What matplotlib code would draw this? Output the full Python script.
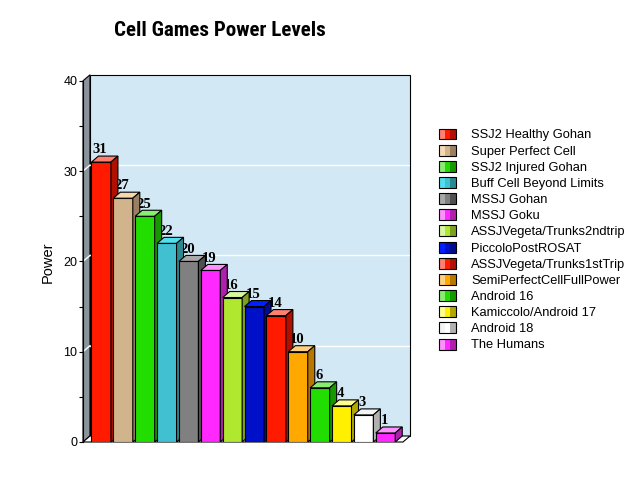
import matplotlib
matplotlib.use('Agg')
import matplotlib.pyplot as plt
from matplotlib import font_manager as fm
from matplotlib.font_manager import FontProperties
from matplotlib.patches import Polygon, Rectangle
from matplotlib.legend_handler import HandlerBase

# ---- data ----
names = ['SSJ2 Healthy Gohan', 'Super Perfect Cell', 'SSJ2 Injured Gohan',
         'Buff Cell Beyond Limits', 'MSSJ Gohan', 'MSSJ Goku',
         'ASSJVegeta/Trunks2ndtrip', 'PiccoloPostROSAT',
         'ASSJVegeta/Trunks1stTrip', 'SemiPerfectCellFullPower',
         'Android 16', 'Kamiccolo/Android 17', 'Android 18', 'The Humans']
values = [31, 27, 25, 22, 20, 19, 16, 15, 14, 10, 6, 4, 3, 1]
yticks = [0, 10, 20, 30, 40]
yminor = [5, 15, 25, 35]
title = 'Cell Games Power Levels'
ylabel = 'Power'

# ---- styles ----
front = ['#FF1A00', '#D2B48C', '#22DD00', '#40C0D0', '#808080', '#FF28FF',
         '#B0E830', '#0010C8', '#FF1A00', '#FFA800', '#22DD00', '#FFF000',
         '#FFFFFF', '#FF28FF']
light = ['#FF8070', '#F8D8B0', '#88EE70', '#50E0F0', '#A8A8A8', '#FF90FF',
         '#D8F8A0', '#0020FF', '#FF8070', '#FFD080', '#88EE70', '#FFFF90',
         '#F4F4F4', '#FF90FF']
dark = ['#B01000', '#9A8060', '#189800', '#2C8890', '#505050', '#B020B0',
        '#7CA020', '#000C90', '#B01000', '#B87800', '#189800', '#B0A800',
        '#B0B0B0', '#B020B0']


def condensed_bold():
    prefs = ['liberation sans narrow', 'roboto condensed', 'open sans condensed',
             'dejavu sans condensed', 'noto sans condensed']
    found = {}
    for f in fm.fontManager.ttflist:
        n = f.name.lower()
        fn = f.fname.lower().replace('-', '').replace('_', '')
        w = f.weight if isinstance(f.weight, int) else (700 if 'bold' in str(f.weight) else 400)
        if w < 600 and 'bold' not in fn:
            continue
        if 'italic' in fn or 'oblique' in fn or f.style != 'normal':
            continue
        key = None
        if 'narrow' in n or 'narrow' in fn:
            key = 'liberation sans narrow' if 'liberation' in fn else n
        elif 'condensed' in n or 'condensed' in fn or f.stretch in ('condensed', 'semi-condensed'):
            if 'dejavusans' in fn and 'mono' not in fn:
                key = 'dejavu sans condensed'
            elif 'roboto' in fn:
                key = 'roboto condensed'
            elif 'opensans' in fn:
                key = 'open sans condensed'
            elif 'noto' in fn:
                key = 'noto sans condensed'
        if key and key not in found:
            found[key] = f.fname
    for p in prefs:
        if p in found:
            return FontProperties(fname=found[p])
    return FontProperties(family='Liberation Sans', weight='bold')


W, H = 640, 480
fig = plt.figure(figsize=(6.4, 4.8), dpi=100)
ax = fig.add_axes([83 / W, 1 - 442 / H, (410 - 83) / W, (442 - 75) / H])

pxx = 21.87   # px per x unit
pxy = 9.03    # px per y unit
dxd = 7 / pxx
dyd = 6 / pxy
xl = -18.2 / pxx
xr = xl + 327 / pxx
ax.set_xlim(xl, xr)
ax.set_ylim(0, 367 / pxy)
ymax = yticks[-1]

lw = 0.8
ax.add_patch(Polygon([(xl, 0), (xl + dxd, dyd), (xl + dxd, ymax + dyd), (xl, ymax)],
                     fc='#8A949C', ec='black', lw=lw, zorder=1, clip_on=False))
ax.add_patch(Rectangle((xl + dxd, dyd), xr - xl - dxd, ymax, fc='#D2E8F4',
                       ec='black', lw=lw, zorder=1, clip_on=False))
ax.add_patch(Polygon([(xl, 0), (xl + dxd, dyd), (xr, dyd), (xr - dxd, 0)],
                     fc='white', ec='black', lw=lw, zorder=1.5, clip_on=False))
for t in yticks[1:-1]:
    ax.plot([xl + dxd, xr], [t + dyd, t + dyd], color='white', lw=1, zorder=1.2)
    ax.plot([xl, xl + dxd], [t, t + dyd], color='white', lw=1, zorder=1.2)

w = 0.89
for i, v in enumerate(values):
    z = 3 + i * 0.1
    ax.bar(i, v, width=w, color=front[i], edgecolor='black', linewidth=lw, zorder=z)
    l, r = i - w / 2, i + w / 2
    ax.add_patch(Polygon([(l, v), (l + dxd, v + dyd), (r + dxd, v + dyd), (r, v)],
                         fc=light[i], ec='black', lw=lw, zorder=z + 0.01))
    ax.add_patch(Polygon([(r, 0), (r, v), (r + dxd, v + dyd), (r + dxd, dyd)],
                         fc=dark[i], ec='black', lw=lw, zorder=z + 0.01))
    ax.text(i - 0.05, v + dyd + 0.3, str(v), family='Liberation Serif',
            weight='bold', size=10.5, zorder=2.5, ha='center', va='baseline')

for s in ['top', 'right', 'bottom']:
    ax.spines[s].set_visible(False)
ax.spines['left'].set_bounds(0, ymax)
ax.spines['left'].set_linewidth(lw)
ax.spines['left'].set_zorder(2)
ax.set_xticks([])
ax.set_yticks(yticks)
ax.set_yticks(yminor, minor=True)
ax.set_yticklabels([str(t) for t in yticks], family='Liberation Sans', size=9)
ax.tick_params(axis='y', which='both', length=3, width=lw, pad=1)

fig.text(47.5 / W, 1 - 262 / H, ylabel, rotation=90, ha='center', va='center',
         family='Liberation Sans', size=10.5)

tprop = condensed_bold()
tprop.set_size(16)
tt = fig.text(219.5 / W, 1 - 36.5 / H, title, ha='center', va='baseline',
              fontproperties=tprop)
fig.canvas.draw()
bw = tt.get_window_extent().width
tt.set_fontsize(min(17.0, 16 * 211.0 / bw))


class GradKey:
    def __init__(self, cols):
        self.cols = cols


class GradHandler(HandlerBase):
    def create_artists(self, legend, orig_handle, xdescent, ydescent, width,
                       height, fontsize, trans):
        arts = []
        for k, c in enumerate(orig_handle.cols):
            arts.append(Rectangle((-xdescent + k * width / 3, -ydescent), width / 3,
                                  height, fc=c, ec='none', transform=trans))
        arts.append(Rectangle((-xdescent, -ydescent), width, height, fc='none',
                              ec='black', lw=lw, transform=trans))
        return arts


handles = [GradKey((light[i], front[i], dark[i])) for i in range(len(names))]
fs = 9.3 * 100 / 72
fig.legend(handles, names, handler_map={GradKey: GradHandler()},
           loc='upper left', bbox_to_anchor=(439 / W, 1 - 128.5 / H),
           bbox_transform=fig.transFigure, frameon=False, borderpad=0,
           borderaxespad=0, handlelength=17 / fs, handleheight=12 / fs,
           handletextpad=15 / fs, labelspacing=0.25,
           prop={'family': 'Liberation Sans', 'size': 9.3})

fig.savefig('out.png', dpi=100)
